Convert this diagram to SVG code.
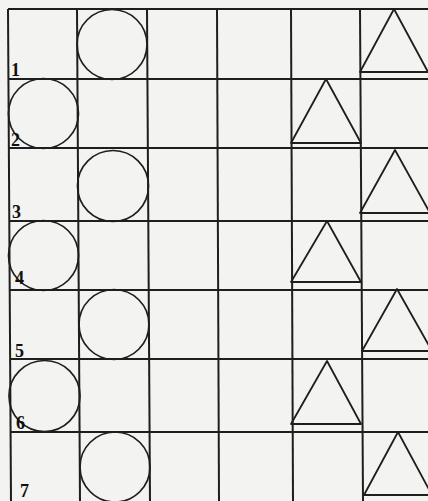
<svg xmlns="http://www.w3.org/2000/svg" width="428" height="501" viewBox="0 0 428 501">
<style>
.g{stroke:#1e1e1e;stroke-width:2;fill:none}
.c{stroke:#1e1e1e;stroke-width:1.7;fill:none}
.t{stroke:#1e1e1e;stroke-width:1.8;fill:none;stroke-linejoin:round}
.n{font-family:"Liberation Serif",serif;font-weight:bold;font-size:18px;fill:#111}
</style>
<rect width="428" height="501" fill="#f3f3f1"/>
<g id="grid" class="g">
<line x1="8" y1="9" x2="11" y2="501"/>
<line x1="77" y1="9" x2="80" y2="501"/>
<line x1="147" y1="9" x2="150" y2="501"/>
<line x1="217" y1="9" x2="219" y2="501"/>
<line x1="291" y1="9" x2="293" y2="501"/>
<line x1="360" y1="9" x2="363" y2="501"/>
<line x1="8" y1="9" x2="428" y2="9"/>
<line x1="8" y1="79" x2="428" y2="79"/>
<line x1="9" y1="148" x2="428" y2="148"/>
<line x1="9" y1="221" x2="428" y2="221"/>
<line x1="9" y1="290" x2="428" y2="290"/>
<line x1="10" y1="359" x2="428" y2="359"/>
<line x1="10" y1="432" x2="428" y2="432"/>
</g>
<g id="circles" class="c">
<circle cx="112" cy="44.5" r="35"/>
<circle cx="43.5" cy="113.5" r="35"/>
<circle cx="113" cy="186" r="35.5"/>
<circle cx="43.5" cy="255.5" r="35"/>
<circle cx="114" cy="324.5" r="35"/>
<circle cx="44.5" cy="396" r="35.5"/>
<circle cx="115" cy="467" r="35"/>
</g>
<g id="triangles" class="t">
<polygon points="394,9 360,72 428,72"/>
<polygon points="326,79 291,143 361,143"/>
<polygon points="395,150 360,213 430,213"/>
<polygon points="327,221 291,282 361,282"/>
<polygon points="397,289 362,351 432,351"/>
<polygon points="327,361 291,424 361,424"/>
<polygon points="398,432 364,495 432,495"/>
</g>
<g id="labels" class="n">
<text x="11" y="76">1</text>
<text x="11" y="146">2</text>
<text x="12" y="218">3</text>
<text x="15" y="284">4</text>
<text x="15" y="357">5</text>
<text x="16" y="429">6</text>
<text x="20" y="497">7</text>
</g>
</svg>
